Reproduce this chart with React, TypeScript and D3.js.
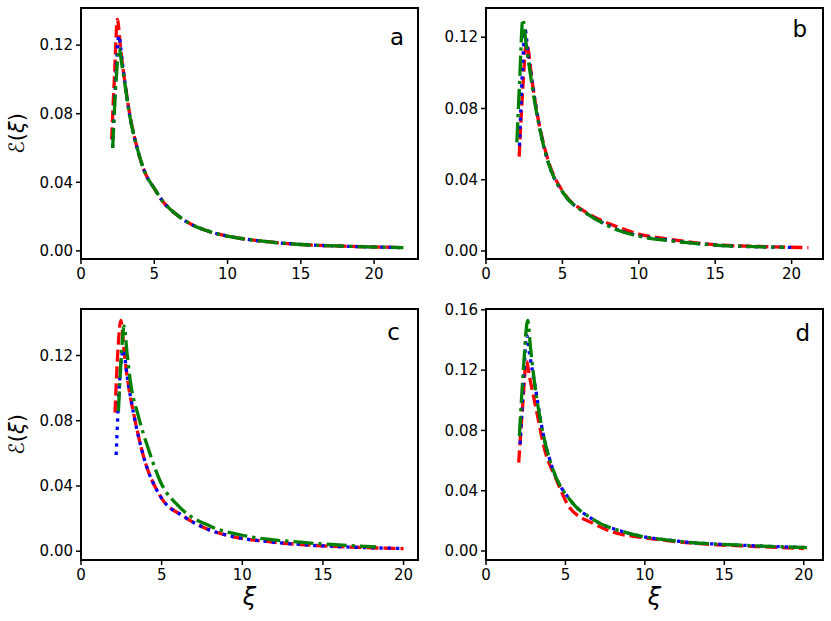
import React from "react";
import * as d3 from "d3";

type Pt = [number, number];

// ---- data (xi, E(xi)) ----
const panelARed: Pt[] = [[2.09, 0.065], [2.3, 0.105], [2.48, 0.135], [2.7, 0.118], [3.0, 0.098], [3.3, 0.081], [3.8, 0.061], [4.4, 0.045], [5.0, 0.0365], [5.6, 0.0286], [6.4, 0.022], [7.2, 0.017], [8.5, 0.012], [10, 0.0086], [12, 0.006], [15, 0.0037], [18, 0.0027], [21.5, 0.002]];
const panelABlue: Pt[] = [[2.16, 0.06], [2.4, 0.105], [2.58, 0.1255], [2.8, 0.111], [3.0, 0.098], [3.3, 0.08], [3.8, 0.061], [4.4, 0.045], [5.0, 0.0365], [5.6, 0.0286], [6.4, 0.022], [7.2, 0.017], [8.5, 0.012], [10, 0.0086], [12, 0.006], [15, 0.0037], [18, 0.0027], [21.8, 0.0019]];
const panelAGreen: Pt[] = [[2.16, 0.06], [2.4, 0.1], [2.6, 0.118], [2.8, 0.108], [3.0, 0.097], [3.3, 0.08], [3.8, 0.061], [4.4, 0.045], [5.0, 0.0365], [5.6, 0.0286], [6.4, 0.022], [7.2, 0.017], [8.5, 0.012], [10, 0.0086], [12, 0.006], [15, 0.0037], [18, 0.0027], [22, 0.0019]];

const panelBRed: Pt[] = [[2.17, 0.053], [2.4, 0.09], [2.65, 0.117], [2.8, 0.111], [2.95, 0.1], [3.25, 0.082], [3.66, 0.064], [4.1, 0.05], [5.1, 0.0325], [6.6, 0.0215], [7.9, 0.0158], [8.6, 0.0135], [10, 0.0095], [12, 0.0066], [15.2, 0.0034], [18, 0.0025], [21.1, 0.0019]];
const panelBBlue: Pt[] = [[2.19, 0.059], [2.35, 0.095], [2.57, 0.124], [2.75, 0.11], [2.95, 0.099], [3.25, 0.082], [3.66, 0.063], [4.1, 0.049], [5.1, 0.032], [6.6, 0.021], [7.9, 0.0148], [8.6, 0.012], [10, 0.0085], [12, 0.006], [15.2, 0.0032], [18, 0.0023], [20, 0.002]];
const panelBGreen: Pt[] = [[2.02, 0.061], [2.2, 0.095], [2.41, 0.13], [2.6, 0.118], [2.89, 0.1], [3.22, 0.082], [3.66, 0.063], [4.1, 0.049], [5.1, 0.032], [6.6, 0.021], [7.9, 0.0145], [8.6, 0.0118], [10, 0.0083], [12, 0.0058], [15.2, 0.0032], [18, 0.0023], [19.5, 0.002]];

const panelCRed: Pt[] = [[2.11, 0.085], [2.3, 0.125], [2.47, 0.1415], [2.7, 0.12], [3.0, 0.098], [3.25, 0.085], [3.88, 0.058], [4.92, 0.0337], [6.36, 0.0214], [7.5, 0.015], [9.47, 0.0088], [11.5, 0.006], [13.6, 0.0041], [16, 0.0028], [18, 0.0021], [20, 0.0016]];
const panelCBlue: Pt[] = [[2.18, 0.059], [2.4, 0.105], [2.63, 0.1235], [2.85, 0.108], [3.25, 0.085], [3.88, 0.058], [4.92, 0.0337], [6.36, 0.0214], [7.5, 0.015], [9.47, 0.0088], [11.5, 0.006], [13.6, 0.0041], [16, 0.0028], [18, 0.0021], [20, 0.0017]];
const panelCGreen: Pt[] = [[2.32, 0.0857], [2.5, 0.12], [2.67, 0.138], [2.85, 0.122], [3.05, 0.105], [3.56, 0.0827], [4.19, 0.0623], [4.91, 0.0429], [6.16, 0.0266], [8.02, 0.0153], [10.3, 0.0092], [13.6, 0.0055], [16, 0.0038], [18.3, 0.0027]];

const panelDRed: Pt[] = [[2.06, 0.0587], [2.3, 0.095], [2.55, 0.126], [2.75, 0.115], [3.16, 0.094], [3.7, 0.067], [4.42, 0.0476], [5.26, 0.0288], [6.73, 0.0184], [8, 0.0125], [9.9, 0.0089], [12, 0.0062], [14.1, 0.0044], [17, 0.003], [20, 0.0016]];
const panelDBlue: Pt[] = [[2.15, 0.071], [2.35, 0.11], [2.56, 0.143], [2.75, 0.13], [3.05, 0.112], [3.58, 0.0786], [4.21, 0.0542], [5.26, 0.0343], [6.73, 0.021], [8.84, 0.0122], [12, 0.0066], [16.2, 0.0038], [20.3, 0.0023]];
const panelDGreen: Pt[] = [[2.1, 0.076], [2.35, 0.12], [2.63, 0.153], [2.8, 0.135], [3.05, 0.112], [3.58, 0.0786], [4.21, 0.0542], [5.26, 0.0343], [6.73, 0.021], [8.84, 0.0122], [12, 0.0066], [16.2, 0.0038], [20.2, 0.0023]];

const xTicks = [0, 5, 10, 15, 20];
const yTicksABC = [0, 0.04, 0.08, 0.12];
const yTicksD = [0, 0.04, 0.08, 0.12, 0.16];
const panelLetters = ["a", "b", "c", "d"];

const W = 831;
const H = 621;
const PW = 337;
const PH = 251;

const styles = [
  { color: "#ff0000", dash: "12,5" },
  { color: "#0000ff", dash: "3.3,5" },
  { color: "#008000", dash: "20,5,3.3,5" },
];

const panels = [
  { left: 81, top: 8, series: [panelARed, panelABlue, panelAGreen], yTicks: yTicksABC, ylabel: true, xlabel: false, lx: 14, ly: 37 },
  { left: 486, top: 8, series: [panelBRed, panelBBlue, panelBGreen], yTicks: yTicksABC, ylabel: false, xlabel: false, lx: 16, ly: 29 },
  { left: 81, top: 309, series: [panelCRed, panelCBlue, panelCGreen], yTicks: yTicksABC, ylabel: true, xlabel: true, lx: 18, ly: 31 },
  { left: 486, top: 309, series: [panelDRed, panelDBlue, panelDGreen], yTicks: yTicksD, ylabel: false, xlabel: true, lx: 13, ly: 32 },
];

const FONT = "DejaVu Sans, sans-serif";

function Panel({ p, letter }: { p: typeof panels[number]; letter: string }) {
  const all = p.series.flat();
  const xMin = d3.min(all, d => d[0])!;
  const xMax = d3.max(all, d => d[0])!;
  const yMin = d3.min(all, d => d[1])!;
  const yMax = d3.max(all, d => d[1])!;
  const yPad = (yMax - yMin) * 0.05;

  const x = d3.scaleLinear().domain([0, xMax + (xMax - xMin) * 0.05]).range([0, PW]);
  const y = d3.scaleLinear().domain([yMin - yPad, yMax + yPad]).range([PH, 0]);

  const line = d3.line<Pt>()
    .x(d => x(d[0]))
    .y(d => y(d[1]))
    .curve(d3.curveMonotoneX);

  return (
    <g transform={`translate(${p.left},${p.top})`}>
      <defs>
        <clipPath id={`clip-${letter}`}>
          <rect x={0} y={0} width={PW} height={PH} />
        </clipPath>
      </defs>
      <g clipPath={`url(#clip-${letter})`}>
        {p.series.map((s, i) => (
          <path
            key={i}
            d={line(s) || ""}
            fill="none"
            stroke={styles[i].color}
            strokeWidth={3.3}
            strokeDasharray={styles[i].dash}
          />
        ))}
      </g>
      <rect x={0} y={0} width={PW} height={PH} fill="none" stroke="#000" strokeWidth={2} />
      {xTicks.map(t => (
        <g key={t} transform={`translate(${x(t)},${PH})`}>
          <line y1={0} y2={5} stroke="#000" strokeWidth={1.5} />
          <text y={20} textAnchor="middle" fontSize={15} fontFamily={FONT} fill="#000">{t}</text>
        </g>
      ))}
      {p.yTicks.map(t => (
        <g key={t} transform={`translate(0,${y(t)})`}>
          <line x1={0} x2={-5} stroke="#000" strokeWidth={1.5} />
          <text x={-8} dy="0.35em" textAnchor="end" fontSize={15} fontFamily={FONT} fill="#000">{t.toFixed(2)}</text>
        </g>
      ))}
      <text x={PW - p.lx} y={p.ly} textAnchor="end" fontSize={23} fontFamily={FONT} fill="#000">{letter}</text>
      {p.ylabel && (
        <text
          transform={`translate(${-57},${PH / 2}) rotate(-90)`}
          textAnchor="middle"
          fontSize={21}
          fontFamily={FONT}
          fill="#000"
        >
          ℰ(<tspan fontStyle="italic">ξ</tspan>)
        </text>
      )}
      {p.xlabel && (
        <text x={PW / 2} y={PH + 45} textAnchor="middle" fontSize={24} fontStyle="italic" fontFamily={FONT} fill="#000">ξ</text>
      )}
    </g>
  );
}

export default function App() {
  return (
    <svg width={W} height={H} style={{ position: "absolute", left: 0, top: 0, background: "#fff" }}>
      <rect width={W} height={H} fill="#fff" />
      {panels.map((p, i) => (
        <Panel key={i} p={p} letter={panelLetters[i]} />
      ))}
    </svg>
  );
}
